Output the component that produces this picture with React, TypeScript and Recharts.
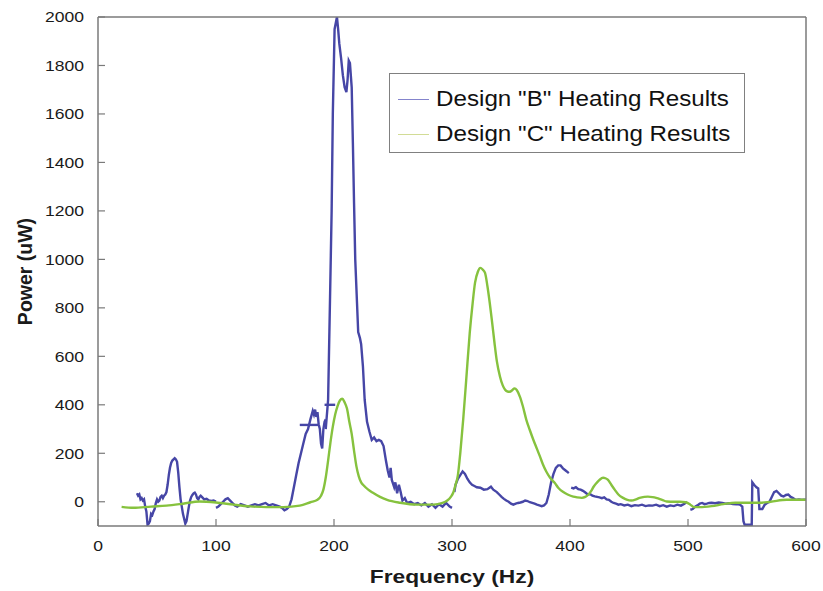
import { LineChart, Line, XAxis, YAxis } from "recharts";

type Pt = { f: number; v: number };
const toPts = (arr: number[][]): Pt[] => arr.map(([f, v]) => ({ f, v }));

const xTicks = [0, 100, 200, 300, 400, 500, 600];
const yTicks = [0, 200, 400, 600, 800, 1000, 1200, 1400, 1600, 1800, 2000];

const legendItems = [
  { name: 'Design "B" Heating Results', color: "#8484cc" },
  { name: 'Design "C" Heating Results', color: "#d2dc96" },
];

// Design "B" trace, stored as the separate pieces it was recorded in
const blueSeg1 = [
  [33, 35], [34, 25], [35, 30], [36, 10], [37, 15], [38, 5], [39, 10], [40, -20], [41, -40], [42, -95],
  [43, -90], [44, -80], [45, -50], [46, -55], [47, -40], [48, -30], [49, -5], [50, 10], [51, 0], [52, 5],
  [53, 20], [54, 25], [55, 15], [56, 25], [57, 30], [58, 40], [59, 70], [60, 110], [61, 140], [62, 160],
  [63, 170], [64, 175], [65, 180], [66, 175], [67, 165], [68, 120], [69, 60], [70, 10], [71, -20], [72, -50],
  [73, -70], [74, -90], [75, -80], [76, -50], [77, -20], [78, 5], [79, 20], [80, 28], [81, 35], [82, 38],
  [83, 30], [84, 15], [85, 10], [86, 20], [87, 25], [88, 20], [90, 10], [92, 12], [94, 5], [96, 3], [98, 5], [100, 1],
];
const blueSeg2 = [
  [100, -25], [102, -20], [104, -10], [106, 0], [108, 10], [110, 15], [112, 5], [114, -5], [116, -15], [118, -20],
  [121, -10], [124, -15], [127, -20], [130, -15], [133, -10], [136, -15], [139, -10], [142, -5], [145, -15],
  [148, -10], [151, -15], [154, -20], [156, -25], [158, -35], [160, -30], [162, -20], [164, 10], [166, 60],
  [168, 110], [170, 160], [172, 200], [174, 240], [176, 280], [178, 300], [180, 340], [182, 375], [183, 360],
  [184, 380], [185, 350], [186, 370], [187, 320], [188, 300], [189, 240], [190, 220], [191, 300], [192, 330], [193, 340],
];
const blueSeg3 = [[171, 317], [187, 317]];
const blueSeg4 = [[192, 400], [201, 400]];
const blueSeg5 = [
  [193, 300], [195, 420], [196.6, 830], [198, 1200], [199, 1600], [200.5, 1950], [202.5, 2000], [203.5, 1950],
  [204.5, 1890], [206, 1830], [207.5, 1760], [209, 1710], [210.5, 1690], [211.5, 1740], [212.5, 1820],
  [213.5, 1810], [215, 1710], [216, 1480], [217, 1230], [218, 1000], [219.5, 820], [220.5, 700], [222, 675],
  [223, 650], [224.5, 560], [226, 420], [228, 330], [230, 290], [232, 255], [234, 265], [236, 250], [238, 255],
  [240, 250], [242, 230], [244, 170], [245.5, 130], [247, 100], [248, 140], [249, 90], [251, 60], [252, 80],
  [253.5, 35], [255, 70], [256.5, 40], [258, 5], [260, 15], [262, -5], [265, 0], [268, -10], [271, -5],
  [274, -15], [277, -5], [280, -20], [283, -10], [286, -25], [289, -10], [292, -20], [295, -5], [298, -20], [300, -25],
];
const blueSeg6 = [
  [302, 40], [303, 70], [305, 95], [307, 110], [309, 125], [311, 115], [313, 95], [315, 80], [317, 70],
  [319, 65], [321, 60], [324, 58], [327, 50], [330, 52], [333, 62], [335, 50], [338, 40], [340, 30], [342, 20],
  [344, 12], [346, 5], [348, 0], [350, -8], [352, -12], [354, -8], [356, -5], [358, -3], [360, 0], [362, 5],
  [364, 3], [366, -2], [368, -5], [370, -8], [372, -12], [374, -15], [376, -18], [378, -15], [380, -5],
  [382, 30], [384, 80], [386, 115], [388, 140], [390, 150], [392, 150], [394, 138], [396, 130], [398, 122], [399, 118],
];
const blueSeg7 = [
  [401, 58], [403, 55], [405, 60], [407, 52], [409, 50], [411, 45], [413, 38], [415, 30], [417, 32], [419, 25],
  [421, 22], [423, 20], [425, 18], [427, 15], [429, 18], [431, 10], [433, 8], [435, 0], [437, -5], [439, -8],
  [441, -12], [443, -10], [446, -15], [449, -12], [452, -18], [455, -14], [458, -16], [461, -12], [464, -18],
  [467, -15], [470, -16], [473, -12], [476, -18], [479, -14], [482, -20], [485, -15], [488, -18], [491, -12],
  [494, -16], [497, -8], [499, 0],
];
const blueSeg8 = [
  [502, -33], [504, -30], [506, -20], [508, -15], [510, -8], [512, -5], [514, -10], [516, -8], [518, -5],
  [520, -4], [523, -6], [526, -3], [529, -5], [532, -8], [535, -6], [538, -9], [541, -10], [544, -12],
  [546, -20], [547, -80], [548, -95], [551, -95], [554, -95], [554.5, 80], [556, 70], [558, 60], [559.5, 55],
  [560.5, -30], [563, -30], [565, -12], [567, -5], [569, 0], [571, 20], [573, 40], [575, 45], [577, 35],
  [579, 25], [581, 22], [583, 28], [585, 30], [587, 20], [589, 15], [591, 8], [594, 10], [597, 8], [600, 8],
];

// Design "C" trace
const greenData = [
  [20, -21], [30, -25], [45, -20], [58, -16], [72, -8], [86, 1], [100, -3], [115, -12], [129, -19], [143, -22],
  [157, -22], [171, -16], [180, -2], [186, 8], [189, 25], [191, 50], [193, 100], [195, 170], [197, 245],
  [199, 310], [201, 360], [203, 395], [205, 418], [207, 425], [209, 410], [211, 385], [213, 330], [215, 280],
  [217, 210], [219, 146], [221, 105], [223, 80], [225, 68], [229, 50], [233, 37], [239, 20], [245, 8],
  [256, -4], [270, -12], [284, -12], [292, -5], [296, 5], [299, 20], [301, 37], [303, 70], [305, 110],
  [307, 200], [309.5, 340], [312, 500], [315, 695], [317.5, 820], [319.5, 903], [322, 950], [324, 965],
  [326, 958], [328, 944], [330, 890], [332, 820], [334, 740], [336, 656], [338, 580], [340.7, 516], [343, 480],
  [345, 462], [347, 455], [349, 454], [351, 460], [353, 468], [355, 460], [357.6, 433], [360, 395], [363, 338],
  [366, 295], [369, 255], [372, 218], [374.6, 186], [377, 155], [380, 124], [383, 100], [387, 78], [390, 58],
  [394, 41], [398, 30], [402.8, 21], [406, 18], [410, 16], [413, 20], [415.5, 29], [418, 45], [420, 62],
  [422.6, 78], [425, 90], [428, 99], [430, 97], [432, 91], [435, 70], [438, 49], [441, 30], [445, 16],
  [448, 9], [452, 5], [456, 10], [459, 16], [463, 20], [466, 21], [470, 19], [473, 16], [478, 8], [482, 1],
  [488, 0], [493, 0], [498, -2], [502, -12], [505, -22], [510, -22], [520, -18], [530, -10], [540, -4],
  [550, -4], [561, -4], [570, 0], [583.6, 8], [600, 8],
];

const blueSegments = [blueSeg1, blueSeg2, blueSeg3, blueSeg4, blueSeg5, blueSeg6, blueSeg7, blueSeg8];

const BLUE = "#4646a6";
const GREEN = "#86c23e";
const AXIS = "#7a7a7a";
const TEXT = "#1a1a1a";
const FONT = "'Liberation Sans', Arial, sans-serif";
const TICK_LEN = 7;
const STRETCH = 1.17; // the original figure is a bit wider than tall

// tick renderers: inward tick mark + (optionally) a slightly widened label
const BottomTick = ({ x, y, payload }: any) => (
  <g>
    <line x1={x} x2={x} y1={y} y2={y - TICK_LEN} stroke={AXIS} strokeWidth={1.2} />
    <text
      transform={`translate(${x},${y + 14}) scale(${STRETCH},1)`}
      textAnchor="middle"
      dy="0.71em"
      fontSize={15}
      fontFamily={FONT}
      fill={TEXT}
    >
      {payload.value}
    </text>
  </g>
);
const TopTick = ({ x, y }: any) => (
  <line x1={x} x2={x} y1={y} y2={y + TICK_LEN} stroke={AXIS} strokeWidth={1.2} />
);
const LeftTick = ({ x, y, payload }: any) => (
  <g>
    <line x1={x} x2={x + TICK_LEN} y1={y} y2={y} stroke={AXIS} strokeWidth={1.2} />
    <text
      transform={`translate(${x - 14},${y}) scale(${STRETCH},1)`}
      textAnchor="end"
      dy="0.355em"
      fontSize={15}
      fontFamily={FONT}
      fill={TEXT}
    >
      {payload.value}
    </text>
  </g>
);
const RightTick = ({ x, y }: any) => (
  <line x1={x} x2={x - TICK_LEN} y1={y} y2={y} stroke={AXIS} strokeWidth={1.2} />
);

const XTitle = ({ viewBox }: any) => (
  <text
    transform={`translate(${viewBox.x + viewBox.width / 2},${viewBox.y + viewBox.height - 8}) scale(1.2,1)`}
    textAnchor="middle"
    fontSize={19}
    fontWeight="bold"
    fontFamily={FONT}
    fill={TEXT}
  >
    Frequency (Hz)
  </text>
);
const YTitle = ({ viewBox }: any) => (
  <text
    transform={`translate(${viewBox.x + 32},${viewBox.y + viewBox.height / 2}) rotate(-90)`}
    textAnchor="middle"
    fontSize={19.5}
    fontWeight="bold"
    fontFamily={FONT}
    fill={TEXT}
  >
    Power (uW)
  </text>
);

export default function App() {
  const axisLine = { stroke: AXIS, strokeWidth: 1.5 };

  return (
    <div style={{ position: "absolute", left: 0, top: 0, width: 823, height: 591, background: "#fff" }}>
      <LineChart width={823} height={591} margin={{ top: 16, right: 16, bottom: 0, left: 0 }}>
        <XAxis
          dataKey="f"
          type="number"
          domain={[0, 600]}
          ticks={xTicks}
          height={65}
          tickSize={0}
          tickMargin={0}
          tickLine={false}
          tick={<BottomTick />}
          axisLine={axisLine}
          allowDataOverflow
          label={<XTitle />}
        />
        <XAxis
          xAxisId="top"
          dataKey="f"
          type="number"
          orientation="top"
          domain={[0, 600]}
          ticks={xTicks}
          height={1}
          tickSize={0}
          tickMargin={0}
          tickLine={false}
          tick={<TopTick />}
          axisLine={axisLine}
        />
        <YAxis
          type="number"
          domain={[-100, 2000]}
          ticks={yTicks}
          width={98}
          tickSize={0}
          tickMargin={0}
          tickLine={false}
          tick={<LeftTick />}
          axisLine={axisLine}
          allowDataOverflow
          label={<YTitle />}
        />
        <YAxis
          yAxisId="right"
          orientation="right"
          type="number"
          domain={[-100, 2000]}
          ticks={yTicks}
          width={1}
          tickSize={0}
          tickMargin={0}
          tickLine={false}
          tick={<RightTick />}
          axisLine={axisLine}
        />
        {blueSegments.map((seg, i) => (
          <Line
            key={`b-${i}`}
            data={toPts(seg)}
            dataKey="v"
            type="linear"
            stroke={BLUE}
            strokeWidth={2.4}
            dot={false}
            isAnimationActive={false}
          />
        ))}
        <Line
          data={toPts(greenData)}
          dataKey="v"
          type="monotone"
          stroke={GREEN}
          strokeWidth={2.4}
          dot={false}
          isAnimationActive={false}
        />
      </LineChart>

      <div
        style={{
          position: "absolute",
          left: 389,
          top: 73,
          width: 354,
          height: 78,
          border: "1.5px solid #808080",
          background: "#fff",
          fontFamily: FONT,
          fontSize: 22,
          color: "#111",
        }}
      >
        {legendItems.map((item, i) => (
          <div
            key={item.name}
            style={{ position: "absolute", left: 8, top: 12 + i * 35, height: 26, display: "flex", alignItems: "center" }}
          >
            <div style={{ width: 31, height: 0, borderTop: `1.5px solid ${item.color}` }} />
            <span
              style={{
                marginLeft: 7,
                whiteSpace: "nowrap",
                display: "inline-block",
                transform: "scaleX(1.1)",
                transformOrigin: "left center",
              }}
            >
              {item.name}
            </span>
          </div>
        ))}
      </div>
    </div>
  );
}
